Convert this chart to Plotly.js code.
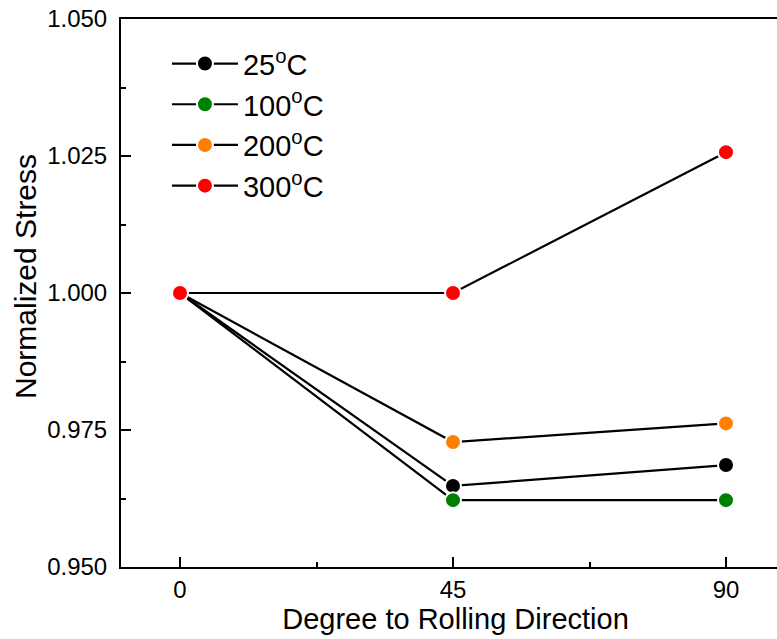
<!DOCTYPE html>
<html>
<head>
<meta charset="utf-8">
<script src="https://cdn.plot.ly/plotly-3.0.1.min.js"></script>
<style>
html, body { margin: 0; padding: 0; overflow: hidden; background: #fff; }
#chart { width: 810px; height: 639px; }
</style>
</head>
<body>
<div id="chart"></div>
<script>
// Data
const angles = [0, 45, 90];
const seriesNames = ["25<sup>o</sup>C", "100<sup>o</sup>C", "200<sup>o</sup>C", "300<sup>o</sup>C"];
const stress25 = [1.000, 0.9648, 0.9686];
const stress100 = [1.000, 0.9622, 0.9622];
const stress200 = [1.000, 0.9728, 0.9762];
const stress300 = [1.000, 1.000, 1.0257];
const markerColors = ["#000000", "#008000", "#ff8000", "#ff0000"];
const yTickVals = [0.950, 0.975, 1.000, 1.025, 1.050];
const yTickText = ["0.950", "0.975", "1.000", "1.025", "1.050"];
const xTickVals = [0, 45, 90];
const xTickText = ["0", "45", "90"];
const xTitle = "Degree to Rolling Direction";
const yTitle = "Normalized Stress";

const allSeries = [stress25, stress100, stress200, stress300];
const traces = allSeries.map((ys, i) => ({
  x: angles,
  y: ys,
  name: seriesNames[i],
  type: "scatter",
  mode: "lines+markers",
  line: { color: "#000000", width: 2.2 },
  marker: { color: markerColors[i], size: 16, line: { color: "#ffffff", width: 2 } },
  cliponaxis: false
}));

const fontFam = "Liberation Sans, Arial, Helvetica, sans-serif";
const layout = {
  width: 810,
  height: 639,
  margin: { l: 121, r: 20, t: 19, b: 72 },
  paper_bgcolor: "#ffffff",
  plot_bgcolor: "#ffffff",
  font: { family: fontFam, color: "#000000", size: 24 },
  showlegend: true,
  legend: {
    x: 0.0687, xanchor: "left", y: 0.965, yanchor: "top",
    font: { family: fontFam, size: 29, color: "#000000" },
    bgcolor: "rgba(0,0,0,0)", borderwidth: 0,
    tracegroupgap: 0, itemwidth: 66
  },
  xaxis: {
    range: [-9.725, 100.55],
    tickvals: xTickVals, ticktext: xTickText,
    ticks: "inside", ticklen: 10, tickwidth: 2, tickcolor: "#000",
    minor: { dtick: 22.5, tick0: 0, ticks: "inside", ticklen: 5, tickwidth: 2, tickcolor: "#000", showgrid: false },
    showline: true, linewidth: 2, linecolor: "#000", mirror: true,
    showgrid: false, zeroline: false,
    tickfont: { family: fontFam, size: 24, color: "#000" },
    title: { text: xTitle, font: { family: fontFam, size: 29, color: "#000" }, standoff: 6 }
  },
  yaxis: {
    range: [0.95, 1.05],
    tickvals: yTickVals, ticktext: yTickText,
    ticks: "inside", ticklen: 10, tickwidth: 2, tickcolor: "#000",
    ticklabelstandoff: 7,
    minor: { dtick: 0.0125, tick0: 0.95, ticks: "inside", ticklen: 5, tickwidth: 2, tickcolor: "#000", showgrid: false },
    showline: true, linewidth: 2, linecolor: "#000", mirror: true,
    showgrid: false, zeroline: false,
    tickfont: { family: fontFam, size: 24, color: "#000" }
  },
  annotations: [{
    text: yTitle, textangle: -90, showarrow: false,
    xref: "paper", yref: "paper", x: -0.1435, y: 0.531,
    xanchor: "center", yanchor: "middle",
    font: { family: fontFam, size: 30, color: "#000" }
  }]
};

Plotly.newPlot("chart", traces, layout, { displayModeBar: false, staticPlot: true });
</script>
</body>
</html>
